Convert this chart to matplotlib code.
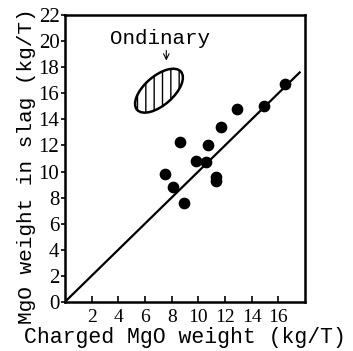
import numpy as np
import matplotlib.pyplot as plt
from matplotlib.patches import Ellipse

# Data (kg/T)
charged = [7.5, 8.1, 8.6, 8.9, 9.8, 10.6, 10.7, 11.3, 11.3, 11.7, 12.9, 14.9, 16.5]
in_slag = [9.8, 8.8, 12.3, 7.6, 10.8, 10.7, 12.0, 9.6, 9.3, 13.4, 14.8, 15.0, 16.7]
line_x = [0, 17.6]
ordinary_center = (7.05, 16.2)
ordinary_size = (4.4, 2.2)
ordinary_angle = 42
x_ticks = [2, 4, 6, 8, 10, 12, 14, 16]
y_ticks = list(range(0, 23, 2))

mono = 'Liberation Mono'
serif = 'Liberation Serif'

fig = plt.figure(figsize=(3.53, 3.51), dpi=100)
ax = fig.add_axes([0.184, 0.140, 0.680, 0.817])

ax.scatter(charged, in_slag, s=55, color='black', zorder=3)
ax.plot(line_x, line_x, color='black', lw=1.6)

ell = Ellipse(ordinary_center, ordinary_size[0], ordinary_size[1], angle=ordinary_angle,
              facecolor='white', edgecolor='black', lw=1.8, hatch='||')
ax.add_patch(ell)
ax.text(7.1, 20.2, 'Ondinary', fontfamily=mono, fontsize=15, ha='center', va='center')
ax.annotate('', xy=(7.6, 18.3), xytext=(7.6, 19.5),
            arrowprops=dict(arrowstyle='->', lw=0.8, color='black'))

ax.set_xlim(0, 18)
ax.set_ylim(0, 22)
ax.set_xticks(x_ticks)
ax.set_yticks(y_ticks)
ax.tick_params(axis='x', direction='in', length=4, width=1.2, pad=5, labelsize=14)
ax.tick_params(axis='y', direction='out', length=3, width=1.2, pad=1, labelsize=15)
for lab in ax.get_xticklabels() + ax.get_yticklabels():
    lab.set_fontfamily(serif)
for sp in ax.spines.values():
    sp.set_linewidth(1.8)

ax.set_xlabel('Charged MgO weight (kg/T)', fontfamily=mono, fontsize=15.5, labelpad=1)
ax.set_ylabel('MgO weight in slag (kg/T)', fontfamily=mono, fontsize=15.2)
ax.yaxis.set_label_coords(-0.12, 0.472)

fig.savefig('out.png', dpi=100)
